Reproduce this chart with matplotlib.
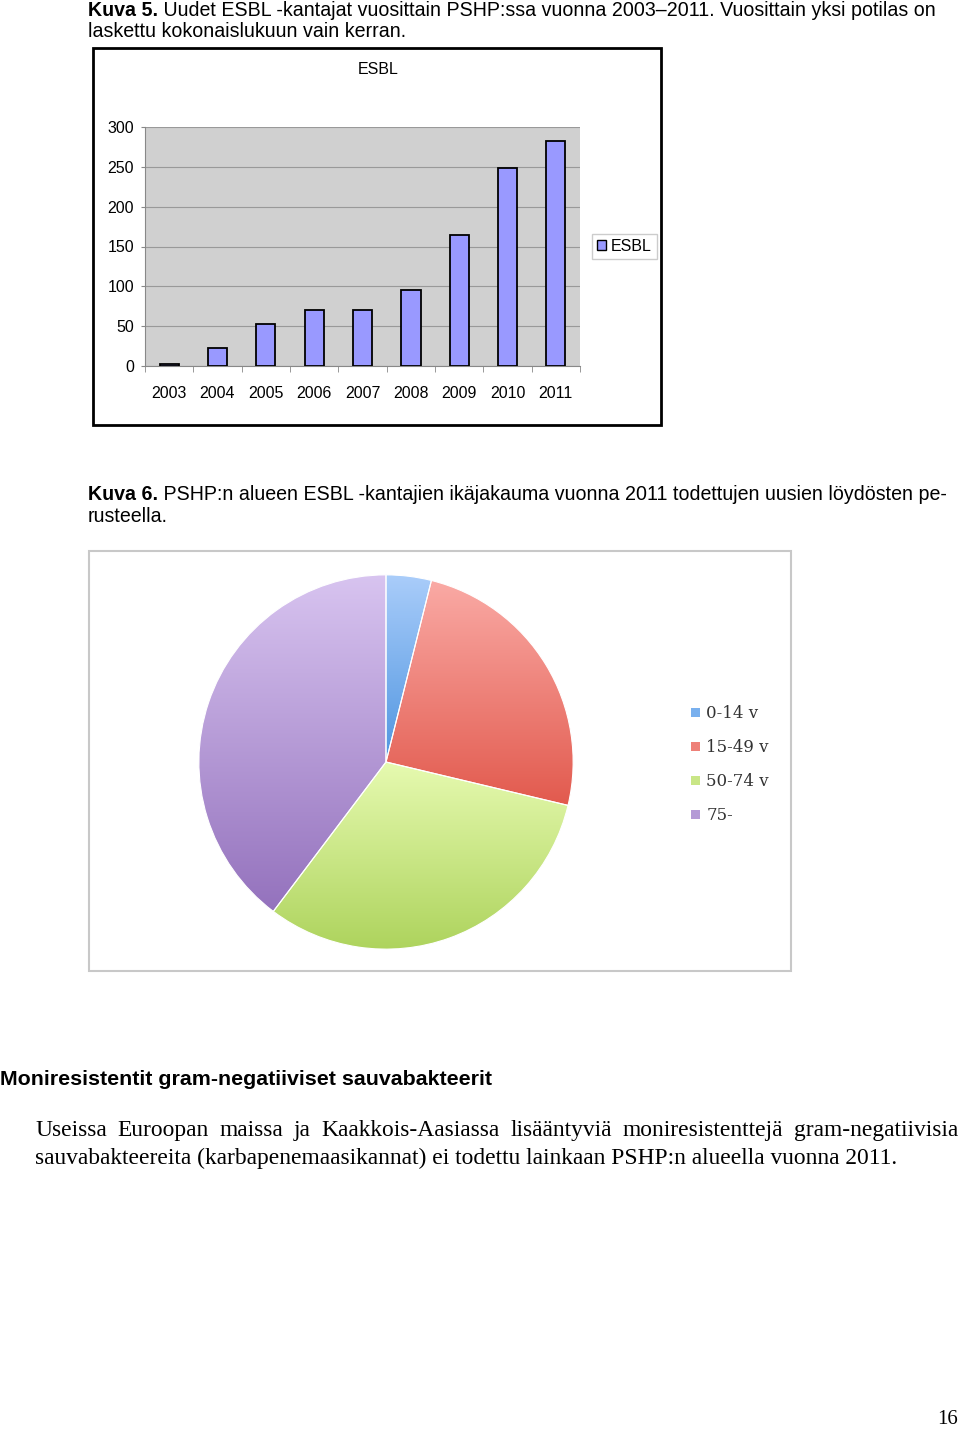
import matplotlib
matplotlib.use('Agg')
import matplotlib.pyplot as plt
import numpy as np
from matplotlib.patches import Rectangle, Patch
from matplotlib.colors import LinearSegmentedColormap
import matplotlib.font_manager as fm

# ---------------- data ----------------
years = ['2003', '2004', '2005', '2006', '2007', '2008', '2009', '2010', '2011']
esbl_counts = [2, 22, 53, 70, 70, 96, 165, 248, 282]
y_ticks = [0, 50, 100, 150, 200, 250, 300]

age_groups = ['0-14 v', '15-49 v', '50-74 v', '75-']
age_counts = [11, 70, 89, 112]
age_colors_top = ['#aacdfa', '#faaaa5', '#e6fab0', '#d8c4f0']
age_colors_bottom = ['#4f95e0', '#e25a4e', '#add35c', '#9472bd']
age_colors_mid = ['#79b0ee', '#ee8078', '#c9e686', '#b49ad6']

# ---------------- layout helpers ----------------
W, H = 960, 1429
fig = plt.figure(figsize=(W / 100, H / 100), dpi=100)
renderer = fig.canvas.get_renderer()


def fx(x):
    return x / W


def fy(y):
    return 1 - y / H


def px_rect(x0, y0, x1, y1):
    return [x0 / W, 1 - y1 / H, (x1 - x0) / W, (y1 - y0) / H]


avail = {f.name for f in fm.fontManager.ttflist}
narrow = ['Liberation Sans Narrow', 'Liberation Sans'] if 'Liberation Sans Narrow' in avail else ['Liberation Sans']
SANS = ['Liberation Sans', 'DejaVu Sans']
SERIF = ['Liberation Serif', 'DejaVu Serif']


def text_width(t):
    bb = t.get_window_extent(renderer)
    return bb.width


def mixed_line(x, y, parts, size, family):
    """parts: list of (text, weight)"""
    cx = x
    for s, w in parts:
        t = fig.text(fx(cx), fy(y), s, fontsize=size, family=family,
                     fontweight=w, va='baseline', ha='left')
        cx += text_width(t)


def justified_line(x0, x1, y, line, size, family):
    words = line.split(' ')
    texts = [fig.text(fx(x0), fy(y), w, fontsize=size, family=family,
                      va='baseline', ha='left') for w in words]
    widths = [text_width(t) for t in texts]
    gap = (x1 - x0 - sum(widths)) / (len(words) - 1)
    cx = x0
    for t, w in zip(texts, widths):
        t.set_x(fx(cx))
        cx += w + gap


CAP = 14.1
# ---------------- captions ----------------
mixed_line(88, 16, [('Kuva 5.', 'bold'),
                    (' Uudet ESBL -kantajat vuosittain PSHP:ssa vuonna 2003\u20132011. Vuosittain yksi potilas on', 'normal')],
           CAP, SANS)
mixed_line(88, 37, [('laskettu kokonaislukuun vain kerran.', 'normal')], CAP, SANS)

mixed_line(88, 500, [('Kuva 6.', 'bold'),
                     (' PSHP:n alueen ESBL -kantajien ik\u00e4jakauma vuonna 2011 todettujen uusien l\u00f6yd\u00f6sten pe-', 'normal')],
           CAP, SANS)
mixed_line(88, 522, [('rusteella.', 'normal')], CAP, SANS)

# ---------------- bar chart ----------------
fig.patches.append(Rectangle((fx(93), fy(425)), (661 - 93) / W, (425 - 48) / H,
                             transform=fig.transFigure, fill=False,
                             edgecolor='black', linewidth=2))
fig.text(fx(378), fy(70), 'ESBL', ha='center', va='center', fontsize=11.5, family=narrow)

ax = fig.add_axes(px_rect(145, 127, 580, 366))
ax.set_facecolor('#d0d0d0')
xpos = np.arange(len(years))
ax.bar(xpos, esbl_counts, width=0.4, color='#9999ff', edgecolor='black',
       linewidth=1.3, zorder=3, label='ESBL')
ax.set_xlim(-0.5, len(years) - 0.5)
ax.set_ylim(0, 300)
ax.set_yticks(y_ticks)
ax.set_yticklabels([str(v) for v in y_ticks], fontsize=11.5, family=narrow)
ax.set_xticks(xpos)
ax.set_xticklabels(years, fontsize=11.5, family=narrow)
ax.set_xticks(np.arange(-0.5, len(years), 1.0), minor=True)
ax.tick_params(axis='x', which='major', length=0, pad=14.5)
ax.tick_params(axis='x', which='minor', length=4, color='#888888')
ax.tick_params(axis='y', length=3, color='#888888', pad=5)
ax.grid(axis='y', color='#999999', linewidth=0.8, zorder=0)
ax.set_axisbelow(True)
for side in ['left', 'bottom']:
    ax.spines[side].set_color('#888888')
for side in ['top', 'right']:
    ax.spines[side].set_visible(False)

fig.legend(handles=[Patch(facecolor='#9999ff', edgecolor='black', linewidth=1)],
           labels=['ESBL'], loc='center', bbox_to_anchor=(fx(624.5), fy(246.5)),
           prop={'family': narrow, 'size': 11.5}, frameon=True, fancybox=False,
           edgecolor='#cccccc', handlelength=0.6, handleheight=0.6,
           handletextpad=0.3, borderpad=0.3, framealpha=1)

# ---------------- pie chart ----------------
fig.patches.append(Rectangle((fx(89), fy(971)), (791 - 89) / W, (971 - 551) / H,
                             transform=fig.transFigure, fill=False,
                             edgecolor='#c8c8c8', linewidth=1.5))

ax2 = fig.add_axes(px_rect(197, 573, 575, 951))
wedges, _ = ax2.pie(age_counts, startangle=90, counterclock=False, radius=1,
                    colors=age_colors_mid,
                    wedgeprops=dict(edgecolor='white', linewidth=0.8))
grad = np.linspace(0, 1, 256).reshape(-1, 1)
for w, ct, cb in zip(wedges, age_colors_top, age_colors_bottom):
    verts = w.get_path().vertices
    ymin, ymax = verts[:, 1].min(), verts[:, 1].max()
    xmin, xmax = verts[:, 0].min(), verts[:, 0].max()
    cmap = LinearSegmentedColormap.from_list('g', [cb, ct])
    im = ax2.imshow(grad, extent=(xmin, xmax, ymin, ymax), origin='lower',
                    cmap=cmap, aspect='auto', zorder=1)
    im.set_clip_path(w)
    w.set_zorder(2)
    w.set_facecolor('none')
ax2.set_xlim(-1.01, 1.01)
ax2.set_ylim(-1.01, 1.01)
ax2.set_aspect('equal')
ax2.axis('off')

fig.legend(handles=[Patch(facecolor=c, edgecolor='none') for c in age_colors_mid],
           labels=age_groups, loc='upper left', bbox_to_anchor=(fx(683), fy(697)),
           prop={'family': ['DejaVu Serif'], 'size': 12}, labelcolor='#333333',
           frameon=False, handlelength=0.5, handleheight=0.5, handletextpad=0.4,
           labelspacing=1.02, borderpad=0)

# ---------------- body text ----------------
mixed_line(0, 1085, [('Moniresistentit gram-negatiiviset sauvabakteerit', 'bold')], 15.4, SANS)
justified_line(35, 958, 1136,
               'Useissa Euroopan maissa ja Kaakkois-Aasiassa lis\u00e4\u00e4ntyvi\u00e4 moniresistenttej\u00e4 gram-negatiivisia',
               16.9, SERIF)
mixed_line(35, 1164, [('sauvabakteereita (karbapenemaasikannat) ei todettu lainkaan PSHP:n alueella vuonna 2011.', 'normal')],
           16.9, SERIF)
fig.text(fx(958), fy(1420), '16', ha='right', va='center', fontsize=15, family=SERIF)

fig.savefig('out.png', dpi=100)
